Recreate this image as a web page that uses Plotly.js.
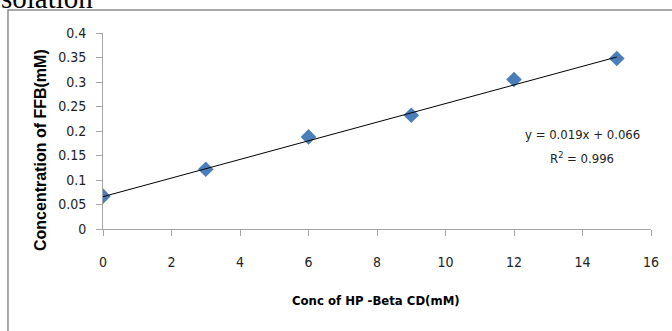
<!DOCTYPE html>
<html>
<head>
<meta charset="utf-8">
<script src="https://cdn.plot.ly/plotly-3.0.1.min.js"></script>
<style>html,body{margin:0;padding:0;background:#fff;}#chart{width:672px;height:331px;}</style>
</head>
<body>
<div id="chart"></div>
<script>
const concHP = [0, 3, 6, 9, 12, 15];
const concFFB = [0.067, 0.122, 0.188, 0.232, 0.305, 0.348];
const trendX = [0, 15];
const trendY = [0.066, 0.351];
const xTicks = [0, 2, 4, 6, 8, 10, 12, 14, 16];
const yTicks = [0, 0.05, 0.1, 0.15, 0.2, 0.25, 0.3, 0.35, 0.4];
const yTickText = ['0', '0.05', '0.1', '0.15', '0.2', '0.25', '0.3', '0.35', '0.4'];
const xTitle = 'Conc of HP -Beta CD(mM)';
const yTitle = 'Concentration of FFB(mM)';
const equationText = 'y = 0.019x + 0.066';
const r2Text = 'R<sup>2</sup> = 0.996';
const captionText = 'solation';

const narrow = 'DejaVu Sans Condensed, Liberation Sans, Arial';
const tickFont = {family: narrow, size: 14, color: '#222'};
const eqFont = {family: narrow, size: 13, color: '#222'};
const axisGray = '#a6a6a6';

const traces = [
  {x: concHP, y: concFFB, type: 'scatter', mode: 'markers',
   marker: {symbol: 'diamond', size: 12, color: '#4a7ebb', line: {width: 0}}, showlegend: false},
  {x: trendX, y: trendY, type: 'scatter', mode: 'lines',
   line: {color: '#000', width: 1}, showlegend: false}
];

const layout = {
  width: 672, height: 331,
  margin: {l: 103, r: 21, t: 33, b: 102},
  paper_bgcolor: '#fff', plot_bgcolor: '#fff',
  xaxis: {range: [0, 16], tickvals: xTicks, ticktext: xTicks.map(String),
    showgrid: false, zeroline: false, showline: true, linecolor: axisGray, linewidth: 1,
    ticks: 'outside', ticklen: 6, tickcolor: axisGray, tickfont: tickFont, ticklabelstandoff: 14},
  yaxis: {range: [0, 0.4], tickvals: yTicks, ticktext: yTickText,
    showgrid: false, zeroline: false, showline: true, linecolor: axisGray, linewidth: 1,
    ticks: 'outside', ticklen: 6, tickcolor: axisGray, tickfont: tickFont, ticklabelstandoff: 7},
  shapes: [
    {type: 'rect', xref: 'paper', yref: 'paper', x0: -0.1734, x1: 1.06, y0: -0.6, y1: 1.117,
     line: {color: '#8c8c8c', width: 1.5}, fillcolor: 'rgba(0,0,0,0)'}
  ],
  annotations: [
    {xref: 'paper', yref: 'paper', x: -0.19, y: (229 - 16) / 196, xanchor: 'left', yanchor: 'bottom',
     text: captionText, showarrow: false, font: {family: 'Liberation Serif, serif', size: 29, color: '#000'}},
    {xref: 'paper', yref: 'paper', x: (376 - 103) / 548, y: (229 - 300) / 196, xanchor: 'center', yanchor: 'middle',
     text: xTitle, showarrow: false, font: {family: narrow, size: 13, color: '#000', weight: 'bold'}},
    {xref: 'paper', yref: 'paper', x: (40 - 103) / 548, y: (229 - 150) / 196, xanchor: 'center', yanchor: 'middle',
     text: yTitle, textangle: -90, showarrow: false, font: {family: 'Liberation Sans, Arial', size: 16, color: '#000', weight: 'bold'}},
    {xref: 'paper', yref: 'paper', x: (582 - 103) / 548, y: (229 - 134) / 196, xanchor: 'center', yanchor: 'middle',
     text: equationText, showarrow: false, font: eqFont},
    {xref: 'paper', yref: 'paper', x: (582 - 103) / 548, y: (229 - 158) / 196, xanchor: 'center', yanchor: 'middle',
     text: r2Text, showarrow: false, font: eqFont}
  ]
};

Plotly.newPlot('chart', traces, layout, {displayModeBar: false, staticPlot: true});
</script>
</body>
</html>
